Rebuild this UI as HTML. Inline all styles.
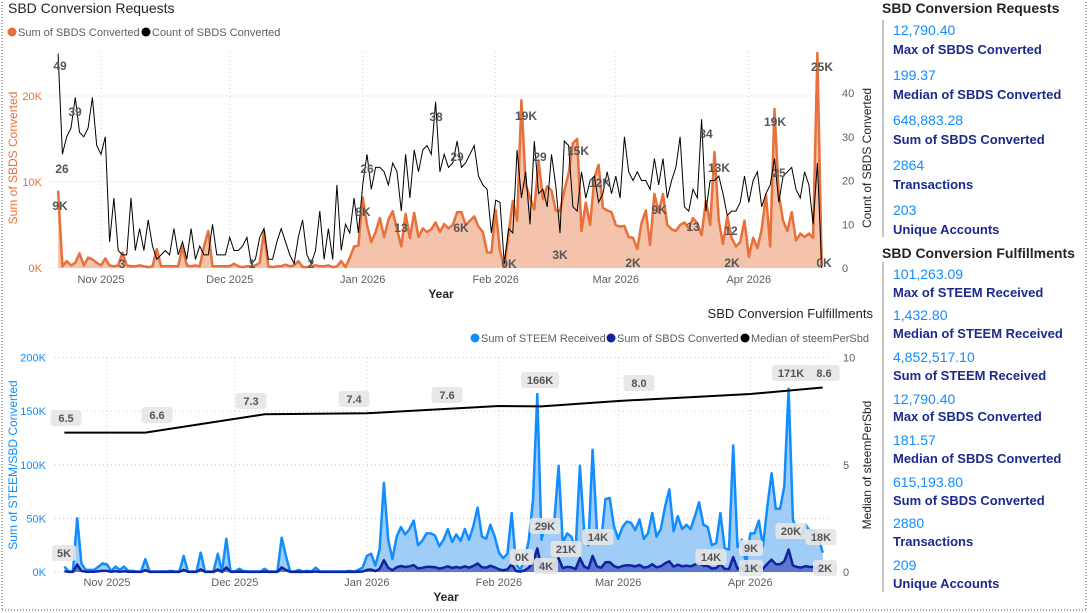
<!DOCTYPE html>
<html><head><meta charset="utf-8">
<style>
html,body{margin:0;padding:0;background:#fff;}
body{width:1089px;height:613px;overflow:hidden;position:relative;font-family:"Liberation Sans",sans-serif;}
svg text{font-family:"Liberation Sans",sans-serif;}
.kv{position:absolute;left:893px;font-size:14px;color:#118DFF;white-space:nowrap;}
.kl{position:absolute;left:893px;font-size:13px;font-weight:bold;color:#1B2A8E;white-space:nowrap;}
.kh{position:absolute;left:882px;font-size:14px;font-weight:bold;color:#252423;white-space:nowrap;}
</style></head>
<body>
<svg id="chart" width="1089" height="613" style="position:absolute;left:0;top:0">
 <line x1="2" y1="2" x2="2" y2="610" stroke="#555" stroke-dasharray="1,2"/>
 <line x1="2" y1="610" x2="1086" y2="610" stroke="#555" stroke-dasharray="1,2"/>
 <line x1="1086" y1="2" x2="1086" y2="610" stroke="#555" stroke-dasharray="1,2"/>
 <text x="8" y="13" font-size="14" fill="#252423">SBD Conversion Requests</text>
 <circle cx="12" cy="32" r="4.5" fill="#E8703A"/>
 <text x="18" y="36" font-size="11" fill="#605E5C">Sum of SBDS Converted</text>
 <circle cx="146" cy="32" r="4.5" fill="#000"/>
 <text x="152" y="36" font-size="11" fill="#605E5C">Count of SBDS Converted</text>
 <text transform="translate(17,158) rotate(-90)" text-anchor="middle" font-size="12" fill="#E8703A">Sum of SBDS Converted</text>
 <text transform="translate(871,158) rotate(-90)" text-anchor="middle" font-size="12" fill="#252423">Count of SBDS Converted</text>
 <text x="441" y="298" text-anchor="middle" font-size="12" font-weight="bold" fill="#252423">Year</text>
 <text x="873" y="318" text-anchor="end" font-size="13" fill="#252423">SBD Conversion Fulfillments</text>
 <circle cx="475" cy="338" r="4.5" fill="#118DFF"/>
 <text x="481" y="342" font-size="11" fill="#605E5C">Sum of STEEM Received</text>
 <circle cx="611" cy="338" r="4.5" fill="#12239E"/>
 <text x="617" y="342" font-size="11" fill="#605E5C">Sum of SBDS Converted</text>
 <circle cx="745" cy="338" r="4.5" fill="#000"/>
 <text x="751" y="342" font-size="11" fill="#605E5C">Median of steemPerSbd</text>
 <text transform="translate(17,465) rotate(-90)" text-anchor="middle" font-size="12" fill="#118DFF">Sum of STEEM/SBD Converted</text>
 <text transform="translate(871,465) rotate(-90)" text-anchor="middle" font-size="12" fill="#252423">Median of steemPerSbd</text>
 <text x="446" y="601" text-anchor="middle" font-size="12" font-weight="bold" fill="#252423">Year</text>
 <g id="top"></g><g id="bot"></g>
 <rect x="882" y="20" width="2" height="217" fill="#C8C6C4"/>
 <rect x="882" y="262" width="2" height="330" fill="#C8C6C4"/>
</svg>

<div class="kh" style="top:0px">SBD Conversion Requests</div>
<div class="kv" style="top:22px">12,790.40</div>
<div class="kl" style="top:42px">Max of SBDS Converted</div>
<div class="kv" style="top:67px">199.37</div>
<div class="kl" style="top:87px">Median of SBDS Converted</div>
<div class="kv" style="top:112px">648,883.28</div>
<div class="kl" style="top:132px">Sum of SBDS Converted</div>
<div class="kv" style="top:157px">2864</div>
<div class="kl" style="top:177px">Transactions</div>
<div class="kv" style="top:202px">203</div>
<div class="kl" style="top:222px">Unique Accounts</div>

<div class="kh" style="top:245px">SBD Conversion Fulfillments</div>
<div class="kv" style="top:266px">101,263.09</div>
<div class="kl" style="top:285px">Max of STEEM Received</div>
<div class="kv" style="top:307px">1,432.80</div>
<div class="kl" style="top:326px">Median of STEEM Received</div>
<div class="kv" style="top:349px">4,852,517.10</div>
<div class="kl" style="top:368px">Sum of STEEM Received</div>
<div class="kv" style="top:391px">12,790.40</div>
<div class="kl" style="top:409px">Max of SBDS Converted</div>
<div class="kv" style="top:432px">181.57</div>
<div class="kl" style="top:451px">Median of SBDS Converted</div>
<div class="kv" style="top:474px">615,193.80</div>
<div class="kl" style="top:493px">Sum of SBDS Converted</div>
<div class="kv" style="top:515px">2880</div>
<div class="kl" style="top:534px">Transactions</div>
<div class="kv" style="top:557px">209</div>
<div class="kl" style="top:576px">Unique Accounts</div>

<script>
// day index 0 = 2025-10-22
const monthLabels = ["Nov 2025","Dec 2025","Jan 2026","Feb 2026","Mar 2026","Apr 2026"];
const monthDays = [10,40,71,102,130,161];
const topYTicks = [0,10,20];
const topY2Ticks = [0,10,20,30,40];
const botYTicks = [0,50,100,150,200];
const botY2Ticks = [0,5,10];
const sbdsSumK = [9,0.2,0.8,0.3,0.6,1.7,0.3,1.2,1.0,0.6,
0.3,1.1,0.3,0.2,0.3,1.8,0.3,0.2,0.2,0.3,0.2,0.1,0.2,2.2,0.2,0.2,0.2,0.2,0.2,2.5,0.3,0.2,0.3,0.2,2.5,4.3,0.2,0.2,0.2,0.2,
0.2,0.5,0.2,0.1,0.2,0.2,0.3,0.6,4.3,0.2,0.1,0.2,0.2,0.4,0.2,0.3,0.8,0.1,0.1,0.2,0.3,0.2,0.2,0.3,0.1,0.2,0.8,0.1,1.2,2.5,2.6,
8.2,5.0,3.0,4.2,5.8,3.6,5.6,6.6,4.5,2.5,6.3,3.5,6.4,3.6,4.6,4.2,4.5,5.3,4.2,5.1,4.6,5.0,6.5,6.5,5.0,5.5,6.0,4.8,4.2,1.8,1.8,
6.7,2.0,0.1,4.0,7.8,5.5,19.5,9.7,8.2,6.8,12.5,8.0,9.5,9.0,6.7,6.6,9.0,11.0,14.5,15.0,4.3,7.6,5.0,10.5,12.0,7.0,6.7,6.5,
5.0,4.8,4.9,3.6,3.5,2.2,5.2,6.7,2.7,8.6,6.5,8.6,5.0,4.5,4.3,5.0,5.3,4.6,5.8,5.2,3.8,7.8,5.0,13.5,5.5,2.8,6.0,3.5,2.5,3.0,5.5,
1.3,3.5,2.3,4.5,8.5,2.5,18.5,8.5,5.5,4.3,6.5,3.2,4.0,3.6,4.0,3.5,25,0.2];
const sbdsCount = [49,26,30,32,39,31,30,32,39,28,26,30,6,16,4,3,3,16,4,9,4,11,5,2,3,4,3,9,3,6,2,9,2,5,3,3,10,3,3,3,
7,4,4,5,7,1,2,7,9,2,2,6,9,6,3,1,7,11,3,1,4,13,2,9,2,19,4,10,8,16,8,19,26,18,23,23,22,19,24,22,13,26,16,27,22,27,28,26,38,22,26,23,24,29,23,24,26,28,21,19,18,8,
15.5,15,1,9,8,27,16,22,10,29,17,18,14,26,19,8,29,28,14,13,22,16,20,21,15,17,22,17,21,16,30,22,20,22,20,20,18,25,19,25,16,20,23,30,14,13,18,16,34,13,20,20,21,17,12,13,13,15,21,15,20,22,14,17,19,25,15,21,22,23,18,16,22,19,10,24,0];
const steemK = [5,0.5,0.5,50,8,2,2,2,5,8,7,1,5,2,5,1,1,0.5,0.5,12,0.5,0.5,0.5,0.5,0.5,1,0.5,0.5,15,0.5,
0.5,0.5,18,0.5,0.5,0.5,17,0.5,31,1,0.5,3,1,0.5,0.5,0.5,0.5,3,0.5,0.5,0.5,32,15,0.5,0.5,2,0.5,1,0.5,4,
0.5,0.5,0.5,0.5,0.5,0.5,0.5,1,0.5,2,4,15,17,6,21,83,30,12,33,42,35,40,48,25,29,36,36,34,24,30,40,28,35,29,40,30,43,60,33,31,44,
33,18,13,17,55,8,2,11,29,67,166,30,46,48,47,99,27,36,33,21,99,39,25,114,40,29,68,69,43,31,42,47,46,39,49,31,36,55,33,40,
61,77,38,52,40,44,40,52,65,44,42,25,27,55,22,21,118,23,30,8,36,36,48,24,61,92,59,59,80,171,49,38,33,44,38,39,33,18];
const sbdsBotK = [0.7,0.1,0.1,7,1,0.3,0.3,0.3,0.7,1,1,0.2,0.7,0.3,0.7,0.2,0.2,0.1,0.1,1.8,0.1,0.1,0.1,0.1,0.1,0.2,0.1,0.1,2,0.1,
0.1,0.1,2.5,0.1,0.1,0.1,2.4,0.1,4.3,0.2,0.1,0.4,0.2,0.1,0.1,0.1,0.1,0.4,0.1,0.1,0.1,4.3,2,0.1,0.1,0.3,0.1,0.2,0.1,0.5,
0.1,0.1,0.1,0.1,0.1,0.1,0.1,0.2,0.1,0.3,0.5,2,2.3,0.8,2.8,11,4,1.6,4.5,5.6,4.7,5.3,6.4,3.3,3.9,4.8,4.8,4.5,3.2,4,5.3,3.7,4.7,3.9,5.3,4,5.7,8,4.4,4.1,5.8,
4.4,2.4,1.7,2.3,7.3,1,0.3,1.5,3.9,9,22,4,6.1,6.4,6.3,13,3.6,4.8,4.4,2.8,13,5.2,3.3,15,5.3,3.9,9,9.2,5.7,4.1,
5.6,6.3,6.1,5.2,6.5,4.1,4.8,7.3,4.4,5.3,8.1,10,5,6.9,5.3,5.9,5.3,6.9,8.6,5.9,5.6,3.3,3.6,7.3,2.9,2.8,14,3,4,1,
4.5,4.5,6,3,7.6,11.5,7.3,7.3,10,21,6.1,4.7,4.1,5.5,4.7,4.8,4.1,2.2];
const medianDays = [0,19,47,71,102,112,130,161,178];
const medianVals = [6.5,6.5,7.35,7.4,7.74,7.72,7.97,8.3,8.6];

const NS="http://www.w3.org/2000/svg";
function mk(parent,tag,attrs){const e=document.createElementNS(NS,tag);for(const k in attrs)e.setAttribute(k,attrs[k]);parent.appendChild(e);return e;}
// axis functions
const xTop = d => 101 + (d-10)*4.29;
const yTopL = v => 268 - v*8.6;
const yTopR = v => 268 - v*4.375;
const xBot = d => 107 + (d-10)*4.26;
const yBotL = v => 572 - v*1.0725;
const yBotR = v => 572 - v*21.45;

const T=document.getElementById('top'), B=document.getElementById('bot');
// grids & ticks top
monthDays.forEach((d,i)=>{
  let g=mk(T,'line',{x1:xTop(d),x2:xTop(d),y1:52,y2:268,stroke:'#ccc','stroke-dasharray':'1,3'});
  
  
  let t=mk(T,'text',{x:xTop(d),y:283,'text-anchor':'middle','font-size':11,fill:'#605E5C'});t.textContent=monthLabels[i];
  
  
});
topYTicks.forEach(v=>{
  let g=mk(T,'line',{x1:50,x2:830,y1:yTopL(v),y2:yTopL(v),stroke:'#ccc','stroke-dasharray':'1,3'});
  
  
  let t=mk(T,'text',{x:42,y:yTopL(v)+4,'text-anchor':'end','font-size':11,fill:'#E8703A'});t.textContent=v+'K';
  
  
});
topY2Ticks.forEach(v=>{
  let t=mk(T,'text',{x:842,y:yTopR(v)+4,'text-anchor':'start','font-size':11,fill:'#605E5C'});t.textContent=v;
  
  
});
function pathOf(arr,xf,yf){return arr.map((v,i)=>(i?'L':'M')+xf(i).toFixed(1)+','+yf(v).toFixed(1)).join('');}
function areaOf(arr,xf,yf,y0){return pathOf(arr,xf,yf)+'L'+xf(arr.length-1)+','+y0+'L'+xf(0)+','+y0+'Z';}
let a=mk(T,'path',{d:areaOf(sbdsSumK,xTop,yTopL,268),fill:'#F4C3AB'});


let l=mk(T,'path',{d:pathOf(sbdsSumK,xTop,yTopL),fill:'none',stroke:'#E8703A','stroke-width':2.5,'stroke-linejoin':'round'});


let c=mk(T,'path',{d:pathOf(sbdsCount,xTop,yTopR),fill:'none',stroke:'#000','stroke-width':1});



// bottom grids
monthDays.forEach((d,i)=>{
  let g=mk(B,'line',{x1:xBot(d),x2:xBot(d),y1:358,y2:572,stroke:'#ccc','stroke-dasharray':'1,3'});
  
  
  let t=mk(B,'text',{x:xBot(d),y:586,'text-anchor':'middle','font-size':11,fill:'#605E5C'});t.textContent=monthLabels[i];
  
  
});
botYTicks.forEach(v=>{
  let g=mk(B,'line',{x1:55,x2:830,y1:yBotL(v),y2:yBotL(v),stroke:'#ccc','stroke-dasharray':'1,3'});
  
  
  let t=mk(B,'text',{x:46,y:yBotL(v)+4,'text-anchor':'end','font-size':11,fill:'#118DFF'});t.textContent=v+'K';
  
  
});
botY2Ticks.forEach(v=>{
  let t=mk(B,'text',{x:843,y:yBotR(v)+4,'text-anchor':'start','font-size':11,fill:'#605E5C'});t.textContent=v;
  
  
});
let sa=mk(B,'path',{d:areaOf(steemK,xBot,yBotL,572),fill:'#A0CDF8'});


let sl=mk(B,'path',{d:pathOf(steemK,xBot,yBotL),fill:'none',stroke:'#118DFF','stroke-width':2.5,'stroke-linejoin':'round'});


let da=mk(B,'path',{d:areaOf(sbdsBotK,xBot,yBotL,572),fill:'#5B78D0'});


let dl=mk(B,'path',{d:pathOf(sbdsBotK,xBot,yBotL),fill:'none',stroke:'#12239E','stroke-width':2.5,'stroke-linejoin':'round'});


let md=medianDays.map((d,i)=>(i?'L':'M')+xBot(d).toFixed(1)+','+yBotR(medianVals[i]).toFixed(1)).join('');
let ml=mk(B,'path',{d:md,fill:'none',stroke:'#000','stroke-width':2});



// data labels
const topLabels=[["49",60,65],["39",75,111],["26",62,168],["9K",60,205],["3",122,263],["1",252,263],["2",311,263],["26",367,168],["8K",363,211],["13",401,227],["38",436,116],["29",457,156],["6K",461,227],["19K",526,115],["29",540,156],["0K",509,263],["3K",560,254],["15K",578,150],["12K",600,182],["2K",633,262],["9K",659,209],["13",693,226],["34",706,133],["13K",719,167],["12",731,230],["2K",732,262],["19K",775,121],["25",779,172],["0K",824,262],["25K",822,66]];
topLabels.forEach(L=>{
  let t=mk(T,'text',{x:L[1],y:L[2]+5,'text-anchor':'middle','font-size':12,'font-weight':'bold',fill:'#555'});t.textContent=L[0];
  
  
});
const botLabels=[["5K",64,553],["6.5",66,418],["6.6",157,415],["7.3",251,401],["7.4",354,399],["7.6",447,395],["166K",540,380],["8.0",639,383],["171K",791,373],["8.6",824,373],["29K",545,526],["21K",566,549],["14K",598,537],["0K",522,557],["4K",546,566],["14K",711,557],["9K",751,548],["1K",751,568],["20K",791,531],["18K",821,537],["2K",825,568]];
botLabels.forEach(L=>{
  let w=L[0].length*7+10;
  let r=mk(B,'rect',{x:L[1]-w/2,y:L[2]-8,width:w,height:16,rx:3,fill:'#E6E6E6','fill-opacity':0.9});
  
  
  let t=mk(B,'text',{x:L[1],y:L[2]+4,'text-anchor':'middle','font-size':11,'font-weight':'bold',fill:'#555'});t.textContent=L[0];
  
  
});
</script>
</body></html>
